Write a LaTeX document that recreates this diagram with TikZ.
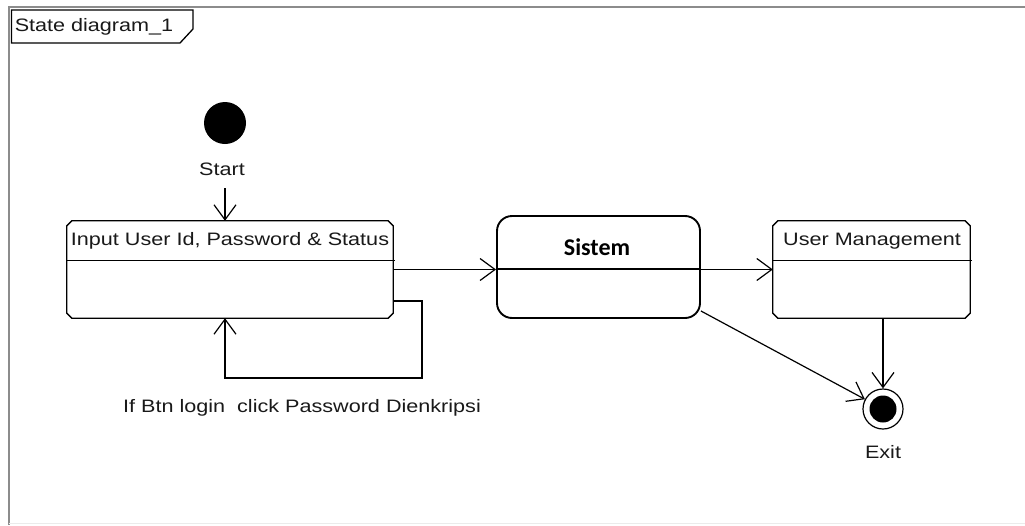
\documentclass[tikz,border=0pt]{standalone}
\usepackage{fontspec}
\setmainfont{Liberation Sans}
\newfontfamily\uifont[FakeStretch=1.2]{Liberation Sans}
\newfontfamily\calfont{Carlito}
\usetikzlibrary{arrows.meta,calc}
\newcommand\chamfbox[1]{%
  \draw[stateline] ($(#1.north west)+(5,0)$) -- ($(#1.north east)+(-5,0)$) -- ($(#1.north east)+(0,5)$) -- ($(#1.south east)+(0,-5)$) -- ($(#1.south east)+(-5,0)$) -- ($(#1.south west)+(5,0)$) -- ($(#1.south west)+(0,-5)$) -- ($(#1.north west)+(0,5)$) -- cycle;}
\begin{document}
\begin{tikzpicture}[x=1pt,y=-1pt,
  lbl/.style={font=\uifont\fontsize{18}{20}\selectfont, inner sep=0pt, text=black!90},
  stateline/.style={draw=black, line width=1.3pt},
  boxnode/.style={rectangle, inner sep=0pt},
  trans/.style={draw=black, line width=1.2pt, -{Straight Barb[length=15pt,width=22pt,line width=1.2pt]}},
  plain/.style={draw=black, line width=1.2pt},
  framegray/.style={draw=black!45, line width=2pt}]
\useasboundingbox (0,0) rectangle (1025,525);
\fill[white] (0,0) rectangle (1025,525);
% frame
\draw[framegray] (8.5,525) -- (8.5,7) -- (1025,7);
\draw[draw=black!8, line width=1.5pt] (8.5,523.5) -- (1025,523.5);
% tab
\node[lbl, anchor=center] (tabtext) at (94,27) {State diagram\_1};
\draw[stateline] (11.5,10) -- (193,10) -- (193,29) -- (180,43) -- (11.5,43) -- cycle;
% start
\node[circle, fill=black, minimum size=42pt, inner sep=0pt] (start) at (225,123) {};
\node[lbl] (startlbl) at (222,169) {Start};
% input state
\node[boxnode, minimum width=326pt, minimum height=97pt] (input) at (230,269.5) {};
\chamfbox{input}
\draw[stateline] ([yshift=-40pt]input.north west) -- ([yshift=-40pt,xshift=2pt]input.north east);
\node[lbl] (inputlbl) at (230,241) {Input User Id, Password \& Status};
% sistem
\node[boxnode, draw=black, line width=1.9pt, rounded corners=15pt, minimum width=203pt, minimum height=102pt] (sistem) at (598.5,267) {};
\draw[draw=black, line width=1.6pt] ([yshift=-54pt]sistem.north west) -- ([yshift=-54pt]sistem.north east);
\node[font=\calfont\bfseries\fontsize{24}{26}\selectfont, inner sep=0pt] (sistemlbl) at (597,247) {Sistem};
% user management
\node[boxnode, minimum width=197pt, minimum height=97pt] (um) at (871.5,269.5) {};
\chamfbox{um}
\draw[stateline] ([yshift=-40pt]um.north west) -- ([yshift=-40pt,xshift=2pt]um.north east);
\node[lbl] (umlbl) at (872,241) {User Management};
% exit
\node[circle, draw=black, line width=1.2pt, fill=white, minimum size=40pt, inner sep=0pt] (exit) at (883,409) {};
\node[circle, fill=black, minimum size=27pt, inner sep=0pt] (exitin) at (exit.center) {};
\node[lbl] (exitlbl) at (883,452) {Exit};
% transitions
\draw[trans] ([yshift=-19pt]startlbl.center -| start) -- (input.north -| start);
\draw[trans] (input.east) -- (input.east -| sistem.west);
\draw[trans] (sistem.east |- um.west) -- (um.west);
\draw[trans] (um.south -| exit) -- (exit.north);
\draw[trans] ($(sistem.east)+(0,44)$) -- (exit);
\coordinate (loopA) at (422,301);
\coordinate (loopB) at (422,378);
\coordinate (loopC) at (225,378);
\draw[trans] (input.east |- loopA) -- (loopA) -- (loopB) -- (loopC) -- (input.south -| loopC);
\node[lbl] (guard) at (302,408) {If Btn login\ \ click Password Dienkripsi};
\end{tikzpicture}
\end{document}
